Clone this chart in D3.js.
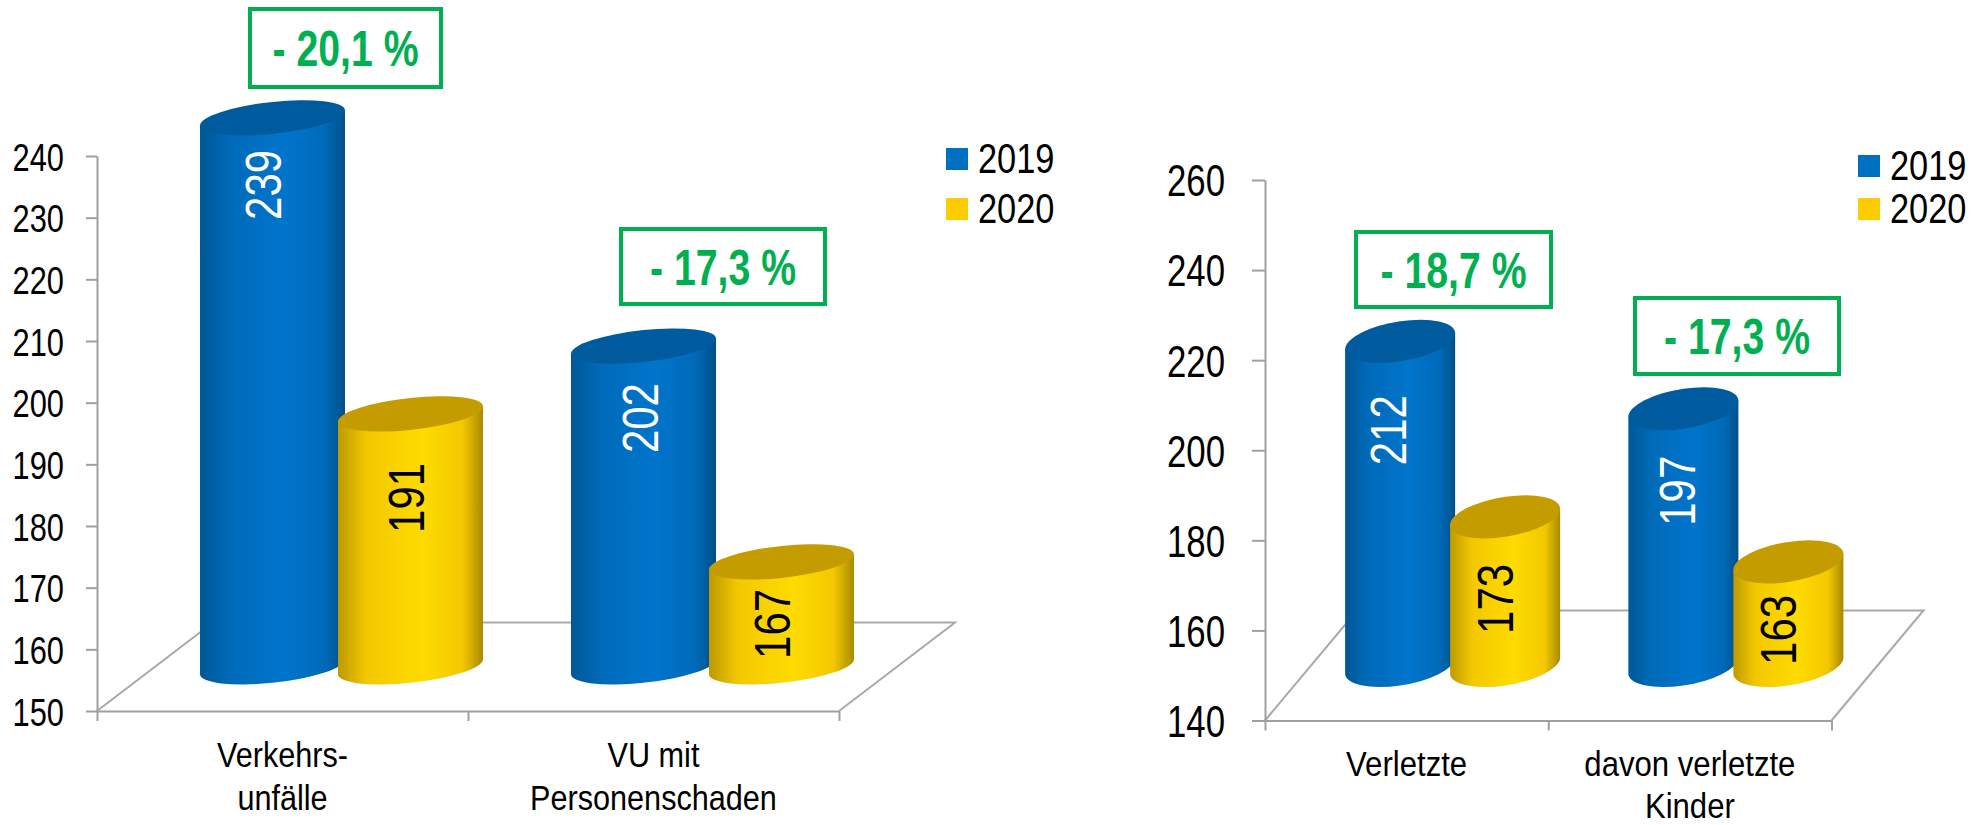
<!DOCTYPE html>
<html>
<head>
<meta charset="utf-8">
<script src="https://cdn.jsdelivr.net/npm/d3@7"></script>
<style>
  html, body { margin: 0; padding: 0; background: #fff; }
  svg { display: block; }
  text { font-family: "Liberation Sans", Arial, sans-serif; }
</style>
</head>
<body>
<svg id="chart" width="1984" height="825"></svg>
<script>
const seriesNames = ["2019", "2020"];

const leftCategories = [["Verkehrs-", "unfälle"], ["VU mit", "Personenschaden"]];
const leftValues2019 = [239, 202];
const leftValues2020 = [191, 167];
const leftChanges = ["- 20,1 %", "- 17,3 %"];
const leftTicks = [150, 160, 170, 180, 190, 200, 210, 220, 230, 240];

const rightCategories = [["Verletzte"], ["davon verletzte", "Kinder"]];
const rightValues2019 = [212, 197];
const rightValues2020 = [173, 163];
const rightChanges = ["- 18,7 %", "- 17,3 %"];
const rightTicks = [140, 160, 180, 200, 220, 240, 260];

const svg = d3.select("#chart");
const defs = svg.append("defs");

function cylinderGradient(id, edgeL, mid, edgeR) {
    const g = defs.append("linearGradient").attr("id", id);
    g.append("stop").attr("offset", "0%").attr("stop-color", edgeL);
    g.append("stop").attr("offset", "20%").attr("stop-color", mid[0]);
    g.append("stop").attr("offset", "58%").attr("stop-color", mid[1]);
    g.append("stop").attr("offset", "86%").attr("stop-color", mid[0]);
    g.append("stop").attr("offset", "100%").attr("stop-color", edgeR);
}
cylinderGradient("blueBody", "#005796", ["#006ab8", "#0075cc"], "#005088");
cylinderGradient("yellowBody", "#bd9a00", ["#f3c800", "#ffdb00"], "#a98a00");

const seriesStyle = [
    { body: "url(#blueBody)", top: "#005a9e", legend: "#0070c0", label: "#fff" },
    { body: "url(#yellowBody)", top: "#c49c00", legend: "#ffcc00", label: "#000" }
];

// the original uses a narrow face, which is not installed: squeeze the text instead
function narrow(sx) {
    return `scale(${sx},1)`;
}

function drawChart(c) {
    const g = svg.append("g");
    const n = c.categories.length;

    const y = d3.scaleLinear().domain(c.domain).range([c.floorY, c.topY]);
    const x = d3.scaleBand().domain(d3.range(n)).range([c.axisX, c.axisEnd]);
    const xTicks = d3.scaleLinear().domain([0, n]).range([c.axisX, c.axisEnd]);

    // floor of the 3d box
    g.append("path")
        .attr("d", d3.line()([
            [c.axisX, c.floorY],
            [c.axisX + c.depthX, c.floorY - c.depthY],
            [c.axisEnd + c.depthX, c.floorY - c.depthY],
            [c.axisEnd, c.floorY]
        ]))
        .attr("fill", "none")
        .attr("stroke", "#a9a9a9")
        .attr("stroke-width", 2);

    const yAxis = g.append("g")
        .attr("transform", `translate(${c.axisX},0)`)
        .call(d3.axisLeft(y).tickValues(c.ticks).tickSize(c.tickSize).tickPadding(c.tickPadding).tickSizeOuter(0));
    const xAxis = g.append("g")
        .attr("transform", `translate(0,${c.floorY})`)
        .call(d3.axisBottom(xTicks).tickValues(d3.range(n + 1)).tickSize(10).tickFormat("").tickSizeOuter(0));
    [yAxis, xAxis].forEach(function(a) {
        a.selectAll("path, line").attr("stroke", "#a0a0a0").attr("stroke-width", 2);
    });
    yAxis.selectAll("text")
        .attr("x", 0)
        .attr("dy", "0.36em")
        .attr("transform", `translate(${-c.tickSize - c.tickPadding},0) ${narrow(c.tickNarrow)}`)
        .attr("fill", "#000")
        .style("font-size", c.tickFont + "px")
        .style("font-family", "'Liberation Sans', Arial, sans-serif");

    // cylinders, back-to-front so the yellow one sits over the blue one
    const a = c.barWidth / 2;
    const baseY = v => y(v) - c.depthY / 2;
    [c.values2019, c.values2020].forEach(function(values, s) {
        values.forEach(function(v, i) {
            const cx = x(i) + x.bandwidth() / 2 + c.depthX / 2 + c.barNudge + (s - 0.5) * c.barStep;
            const top = baseY(v);
            const bottom = baseY(c.domain[0]);
            const h = bottom - top;
            const bar = g.append("g")
                .attr("transform", `matrix(1,${-c.shear},0,1,${cx},${bottom})`);
            bar.append("path")
                .attr("d", `M${-a},0 A${a},${c.ry} 0 0 0 ${a},0 L${a},${-h} L${-a},${-h} Z`)
                .attr("fill", seriesStyle[s].body);
            bar.append("ellipse")
                .attr("cy", -h)
                .attr("rx", a)
                .attr("ry", c.ry)
                .attr("fill", seriesStyle[s].top);

            g.append("text")
                .attr("transform", `translate(${cx + c.labelShift[s][i][0]},${top + c.labelShift[s][i][1]}) rotate(-90) ${narrow(0.84)}`)
                .attr("text-anchor", "middle")
                .attr("dy", "0.36em")
                .attr("fill", seriesStyle[s].label)
                .style("font-size", "50px")
                .text(v);
        });
    });

    // category labels
    c.categories.forEach(function(lines, i) {
        lines.forEach(function(line, j) {
            g.append("text")
                .attr("transform", `translate(${x(i) + x.bandwidth() / 2},${c.catY + j * c.catLine}) ${narrow(c.catNarrow)}`)
                .attr("text-anchor", "middle")
                .style("font-size", c.catFont + "px")
                .text(line);
        });
    });

    // change boxes
    c.changes.forEach(function(label, i) {
        const b = c.boxes[i];
        g.append("rect")
            .attr("x", b[0]).attr("y", b[1])
            .attr("width", b[2]).attr("height", b[3])
            .attr("fill", "#fff")
            .attr("stroke", "#00b050")
            .attr("stroke-width", 4);
        g.append("text")
            .attr("transform", `translate(${b[0] + b[2] / 2},${b[1] + b[3] / 2 + 18}) ${narrow(0.785)}`)
            .attr("text-anchor", "middle")
            .attr("fill", "#00b050")
            .attr("font-weight", "bold")
            .style("font-size", "50px")
            .text(label);
    });

    // legend
    seriesNames.forEach(function(name, i) {
        g.append("rect")
            .attr("x", c.legendX)
            .attr("y", c.legendY + i * c.legendStep - 11)
            .attr("width", 22)
            .attr("height", 22)
            .attr("fill", seriesStyle[i].legend);
        g.append("text")
            .attr("transform", `translate(${c.legendX + 32},${c.legendY + i * c.legendStep - 1}) ${narrow(0.8)}`)
            .attr("dy", "0.36em")
            .style("font-size", "43px")
            .text(name);
    });
}

drawChart({
    categories: leftCategories, values2019: leftValues2019, values2020: leftValues2020,
    changes: leftChanges, ticks: leftTicks, domain: [150, 240],
    axisX: 97, axisEnd: 839, floorY: 711, topY: 156, depthX: 116, depthY: 88.5,
    barWidth: 145, barStep: 138, barNudge: 1, ry: 16, shear: 0.104,
    tickFont: 39, tickNarrow: 0.79, tickSize: 11, tickPadding: 22,
    catFont: 35, catNarrow: 0.875, catY: 767, catLine: 43,
    boxes: [[250, 9, 191, 78], [621, 229, 204, 75]],
    labelShift: [[[-10, 67], [-4, 72]], [[-5, 84], [-10, 62]]],
    legendX: 946, legendY: 159, legendStep: 50
});

drawChart({
    categories: rightCategories, values2019: rightValues2019, values2020: rightValues2020,
    changes: rightChanges, ticks: rightTicks, domain: [140, 260],
    axisX: 1265, axisEnd: 1831.5, floorY: 720.5, topY: 180, depthX: 92, depthY: 110,
    barWidth: 110, barStep: 105, barNudge: 0, ry: 20, shear: 0.145,
    tickFont: 44, tickNarrow: 0.79, tickSize: 13, tickPadding: 27,
    catFont: 36, catNarrow: 0.865, catY: 776, catLine: 42,
    boxes: [[1356, 232, 195, 75], [1635, 298, 204, 76]],
    labelShift: [[[-12, 89], [-6, 82]], [[-10, 82], [-10, 68]]],
    legendX: 1858, legendY: 166, legendStep: 43
});
</script>
</body>
</html>
